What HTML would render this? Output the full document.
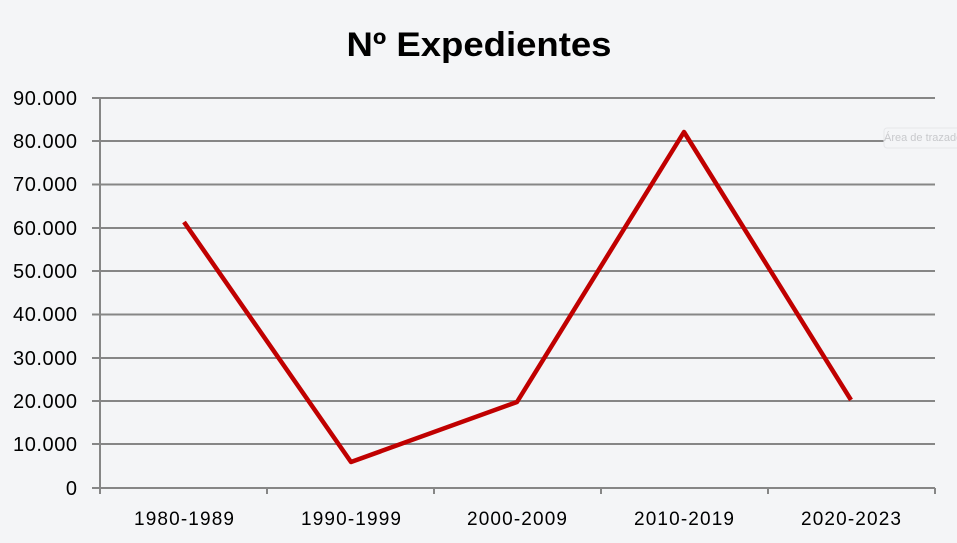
<!DOCTYPE html>
<html><head><meta charset="utf-8"><style>html,body{margin:0;padding:0;background:#f4f5f7;}svg{display:block}</style></head>
<body>
<svg width="957" height="543" xmlns="http://www.w3.org/2000/svg" font-family="Liberation Sans, sans-serif">
<rect width="957" height="543" fill="#f4f5f7"/>
<text x="479" y="56" text-anchor="middle" font-size="34" font-weight="bold" textLength="265" lengthAdjust="spacingAndGlyphs">Nº Expedientes</text>
<g stroke="#868686" stroke-width="2">
<line x1="92" y1="98" x2="935" y2="98"/>
<line x1="92" y1="141" x2="935" y2="141"/>
<line x1="92" y1="184.5" x2="935" y2="184.5"/>
<line x1="92" y1="228" x2="935" y2="228"/>
<line x1="92" y1="271" x2="935" y2="271"/>
<line x1="92" y1="314.5" x2="935" y2="314.5"/>
<line x1="92" y1="358" x2="935" y2="358"/>
<line x1="92" y1="401" x2="935" y2="401"/>
<line x1="92" y1="444" x2="935" y2="444"/>
<line x1="92" y1="488" x2="935" y2="488"/>
<line x1="100" y1="98" x2="100" y2="494"/>
<line x1="267" y1="488" x2="267" y2="494"/>
<line x1="434" y1="488" x2="434" y2="494"/>
<line x1="601" y1="488" x2="601" y2="494"/>
<line x1="768" y1="488" x2="768" y2="494"/>
<line x1="935" y1="488" x2="935" y2="494"/>
</g>
<g font-size="20" text-anchor="end" fill="#000" lengthAdjust="spacingAndGlyphs">
<text x="77" y="105" textLength="64">90.000</text>
<text x="77" y="148" textLength="64">80.000</text>
<text x="77" y="191" textLength="64">70.000</text>
<text x="77" y="235" textLength="64">60.000</text>
<text x="77" y="278" textLength="64">50.000</text>
<text x="77" y="321" textLength="64">40.000</text>
<text x="77" y="365" textLength="64">30.000</text>
<text x="77" y="408" textLength="64">20.000</text>
<text x="77" y="451" textLength="64">10.000</text>
<text x="77" y="495">0</text>
</g>
<g font-size="19" text-anchor="middle" fill="#000">
<text x="184" y="525" textLength="100">1980-1989</text>
<text x="351" y="525" textLength="100">1990-1999</text>
<text x="517" y="525" textLength="100">2000-2009</text>
<text x="684" y="525" textLength="100">2010-2019</text>
<text x="851" y="525" textLength="100">2020-2023</text>
</g>
<polyline points="184,222 351,462 517,402 684,132 851,400" fill="none" stroke="#c00000" stroke-width="4.5" stroke-linejoin="round"/>
<rect x="884" y="128" width="80" height="20" rx="3" fill="#f4f5f7" stroke="#e6e7ea"/>
<text x="884" y="141" font-size="11" fill="#c8c9cc">Área de trazado</text>
</svg>
</body></html>
